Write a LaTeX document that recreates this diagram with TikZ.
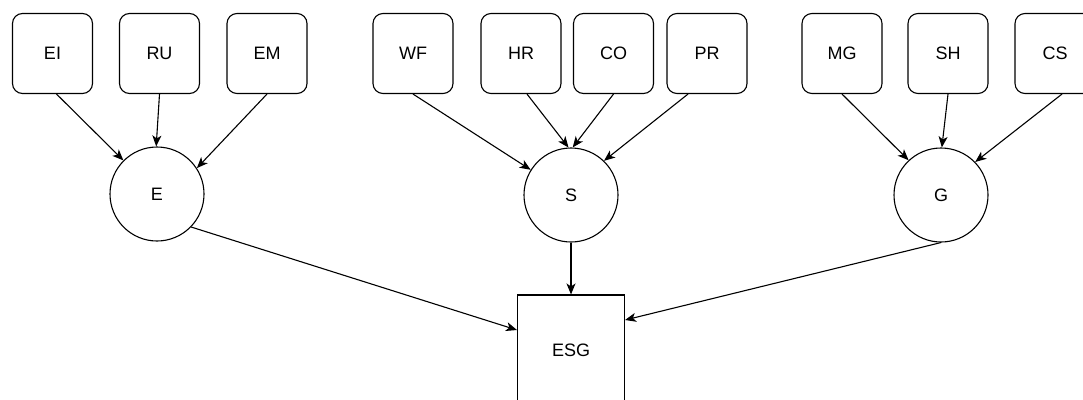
\documentclass[tikz,border=0pt]{standalone}
\usepackage{fontspec}
\setmainfont{Liberation Sans}
\usetikzlibrary{arrows.meta}
\begin{document}
\begin{tikzpicture}[x=1pt,y=-1pt,
  every node/.style={font=\fontsize{18}{21}\selectfont},
  leaf/.style={draw, rounded corners=10pt, minimum width=80pt, minimum height=80pt, line width=1.1pt, inner sep=0pt},
  hub/.style={draw, circle, minimum size=94pt, line width=1.1pt, inner sep=0pt},
  total/.style={draw, rectangle, minimum width=107pt, minimum height=110pt, line width=1.1pt, inner sep=0pt},
  link/.style={line width=1.1pt, -{Stealth[length=11pt,width=9pt,inset=3pt]}}
]
\useasboundingbox (0,0) rectangle (1083,399);
\clip (0,0) rectangle (1083,399);
\node[leaf] (EI) at (52.5,53.5) {EI};
\node[leaf] (RU) at (159.5,53.5) {RU};
\node[leaf] (EM) at (267,53.5) {EM};
\node[leaf] (WF) at (413,53.5) {WF};
\node[leaf] (HR) at (521,53.5) {HR};
\node[leaf] (CO) at (613.5,53.5) {CO};
\node[leaf] (PR) at (707,53.5) {PR};
\node[leaf] (MG) at (842,53.5) {MG};
\node[leaf] (SH) at (948,53.5) {SH};
\node[leaf] (CS) at (1055,53.5) {CS};
\node[hub] (E) at (157,194) {E};
\node[hub] (S) at (571,195) {S};
\node[hub] (G) at (941,195) {G};
\node[total] (ESG) at (571,350) {ESG};
\draw[link] ([xshift=4pt]EI.south) -- (E.135);
\draw[link] (RU.south) -- (E.91);
\draw[link] (EM.south) -- (E.33);
\draw[link] (WF.south) -- (S.148);
\draw[link] ([xshift=6pt]HR.south) -- (S.93);
\draw[link] (CO.south) -- (S.88);
\draw[link] ([xshift=-19pt]PR.south) -- (S.46);
\draw[link] (MG.south) -- (G.133);
\draw[link] (SH.south) -- (G.89);
\draw[link] ([xshift=7pt]CS.south) -- (G.44);
\draw[link] (E.-44) -- ([yshift=20pt]ESG.west);
\draw[link] (S.south) -- (ESG.north);
\draw[link] (G.south) -- ([yshift=30pt]ESG.east);
\end{tikzpicture}
\end{document}
